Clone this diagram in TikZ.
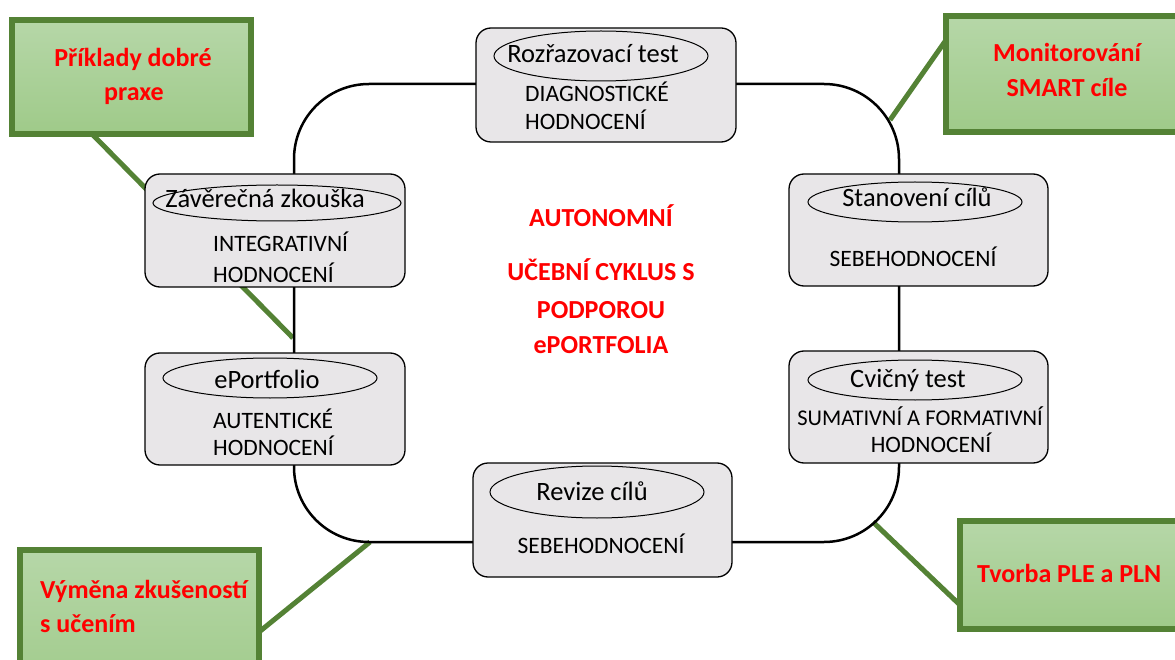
\documentclass[tikz,border=0pt]{standalone}
\usepackage{fontspec}
\setmainfont{Carlito}
\definecolor{boxgray}{HTML}{E8E6E8}
\definecolor{leafline}{HTML}{548235}
\definecolor{leaftop}{HTML}{B6D7A8}
\definecolor{leafbot}{HTML}{9FCA89}
\definecolor{cyclered}{HTML}{FF0000}
\tikzset{
  stagebox/.style={draw=black, line width=1.3pt, fill=boxgray, rounded corners=15pt, inner sep=0pt},
  stagelabel/.style={draw=black, line width=1pt, ellipse, inner sep=0pt},
  leafbox/.style={draw=leafline, line width=6pt, top color=leaftop, bottom color=leafbot, inner sep=0pt},
  leafwire/.style={draw=leafline, line width=5pt},
  cyclewire/.style={draw=black, line width=2.5pt, rounded corners=75pt},
  titletext/.style={anchor=base, inner sep=0pt, font=\fontsize{26.5}{30}\selectfont},
  kindtext/.style={inner sep=0pt, font=\fontsize{23.5}{27}\selectfont},
  redtext/.style={anchor=base, inner sep=0pt, text=cyclered, font=\bfseries\fontsize{26}{30}\selectfont},
}
\usetikzlibrary{shapes.geometric}
\begin{document}
\begin{tikzpicture}[x=1pt, y=-1pt]
\useasboundingbox (0,0) rectangle (1175,660);
\clip (0,0) rectangle (1175,660);

% feet of the callout wires on the callout boxes and on the cycle
\coordinate (w1a) at (92,134);   \coordinate (w1b) at (293,338);
\coordinate (w2a) at (946,40);   \coordinate (w2b) at (890,120);
\coordinate (w3a) at (259,632);  \coordinate (w3b) at (370,542);
\coordinate (w4a) at (960,605);  \coordinate (w4b) at (873,522);

% callout wires
\draw[leafwire] (w1a) -- (w1b);
\draw[leafwire] (w2a) -- (w2b);
\draw[leafwire] (w3a) -- (w3b);
\draw[leafwire] (w4a) -- (w4b);

% the learning cycle
\coordinate (cycNW) at (294,84);
\coordinate (cycSE) at (899,542);
\draw[cyclewire] (cycNW) rectangle (cycSE);

% callout boxes
\node[leafbox, minimum width=239pt, minimum height=114pt] (g1) at (131.5,77) {};
\node[leafbox, minimum width=244pt, minimum height=116pt] (g2) at (1068,74) {};
\node[leafbox, minimum width=239pt, minimum height=150pt] (g3) at (139.5,625) {};
\node[leafbox, minimum width=230pt, minimum height=108pt] (g4) at (1075,575) {};

\node[redtext] (g1a) at (133,67) {Příklady dobré};
\node[redtext] (g1b) at (134,101) {praxe};
\node[redtext] (g2a) at (1067,62) {Monitorování};
\node[redtext] (g2b) at (1067,97) {SMART cíle};
\node[redtext, anchor=base west] (g3a) at (40,598) {Výměna zkušeností};
\node[redtext, anchor=base west] (g3b) at (40,632) {s učením};
\node[redtext, anchor=base west] (g4a) at (977,582) {Tvorba PLE a PLN};

% stages of the cycle
\node[stagebox, minimum width=260pt, minimum height=114pt] (s1) at (606,85) {};
\node[stagelabel, minimum width=214pt, minimum height=50pt] (s1e) at (601,56) {};
\node[titletext] (s1t) at (593,63) {Rozřazovací test};
\node[kindtext, anchor=base west] (s1k) at (525,102) {DIAGNOSTICKÉ};
\node[kindtext, anchor=base west] (s1h) at (525,130) {HODNOCENÍ};

\node[stagebox, minimum width=260pt, minimum height=113pt] (s2) at (275,230.5) {};
\node[stagelabel, minimum width=248pt, minimum height=36pt] (s2e) at (277,203) {};
\node[titletext] (s2t) at (265,208) {Závěrečná zkouška};
\node[kindtext, anchor=base west] (s2k) at (213,252) {INTEGRATIVNÍ};
\node[kindtext, anchor=base west] (s2h) at (213,283) {HODNOCENÍ};

\node[stagebox, minimum width=260pt, minimum height=112pt] (s3) at (275,409) {};
\node[stagelabel, minimum width=214pt, minimum height=40pt] (s3e) at (270,378) {};
\node[titletext] (s3t) at (267,388) {ePortfolio};
\node[kindtext, anchor=base west] (s3k) at (213,428) {AUTENTICKÉ};
\node[kindtext, anchor=base west] (s3h) at (213,455) {HODNOCENÍ};

\node[stagebox, minimum width=259pt, minimum height=114pt] (s4) at (602.5,520) {};
\node[stagelabel, minimum width=214pt, minimum height=52pt] (s4e) at (597,492) {};
\node[titletext] (s4t) at (592,500) {Revize cílů};
\node[kindtext, anchor=base] (s4k) at (601,553) {SEBEHODNOCENÍ};

\node[stagebox, minimum width=259pt, minimum height=112pt] (s5) at (918.5,230) {};
\node[stagelabel, minimum width=214pt, minimum height=40pt] (s5e) at (915,202) {};
\node[titletext] (s5t) at (917,207) {Stanovení cílů};
\node[kindtext, anchor=base] (s5k) at (913,267) {SEBEHODNOCENÍ};

\node[stagebox, minimum width=259pt, minimum height=112pt] (s6) at (918.5,407) {};
\node[stagelabel, minimum width=214pt, minimum height=40pt] (s6e) at (915,380) {};
\node[titletext] (s6t) at (908,387) {Cvičný test};
\node[kindtext, anchor=base, font=\fontsize{22.5}{27}\selectfont] (s6k) at (920,425) {SUMATIVNÍ A FORMATIVNÍ};
\node[kindtext, anchor=base] (s6h) at (931,452) {HODNOCENÍ};

% title in the middle of the cycle
\node[redtext] (c1) at (601,227) {AUTONOMNÍ};
\node[redtext] (c2) at (601,280) {UČEBNÍ CYKLUS S};
\node[redtext] (c3) at (601,318) {PODPOROU};
\node[redtext] (c4) at (601,353) {ePORTFOLIA};
\end{tikzpicture}
\end{document}
